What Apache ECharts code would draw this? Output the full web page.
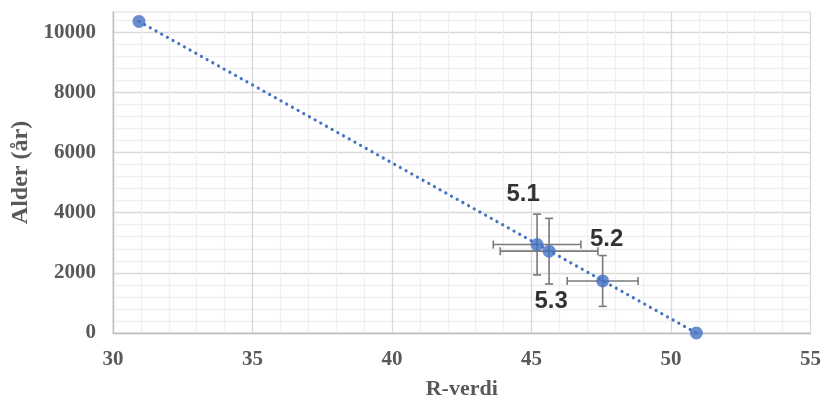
<!DOCTYPE html>
<html>
<head>
<meta charset="utf-8">
<script src="https://cdn.jsdelivr.net/npm/echarts@6/dist/echarts.min.js"></script>
<style>
html,body{margin:0;padding:0;background:#fff;}
#chart{width:824px;height:405px;}
</style>
</head>
<body>
<div id="chart"></div>
<script>
// ---- data ----
const rValues   = [30.93, 45.2, 45.63, 47.55, 50.91];   // R-verdi
const ages      = [10356, 2940, 2720, 1730, 0];         // Alder (år)
const rErr      = [null, 1.57, 1.75, 1.27, null];       // ± R-verdi
const ageErr    = [null, 1010, 1090, 845, null];        // ± Alder
const pointLabels = ['', '5.1', '5.3', '5.2', ''];
const labelOffsets = [[0,0], [-14,-50], [2,50], [4,-42], [0,0]];
const trendX = [30.93, 50.91];
const trendY = [10356, 0];
const xTicks = [30, 35, 40, 45, 50, 55];
const yTicks = [0, 2000, 4000, 6000, 8000, 10000];

const BLUE = '#4472C4';
const GRAY_TXT = '#595959';
const MAJOR = '#d9d9d9';
const MINOR = '#f0f0f0';

const scatterData = rValues.map((x, i) => ({
  value: [x, ages[i]],
  label: {
    show: pointLabels[i] !== '',
    formatter: pointLabels[i],
    position: 'inside',
    offset: labelOffsets[i],
    color: '#000',
    fontFamily: 'Liberation Sans',
    fontWeight: 'bold',
    fontSize: 24
  }
}));

const errData = [];
rValues.forEach((x, i) => {
  if (rErr[i] != null) errData.push([x, ages[i], rErr[i], ageErr[i]]);
});

const trendData = trendX.map((x, i) => [x, trendY[i]]);

const chart = echarts.init(document.getElementById('chart'), null, {renderer: 'canvas'});
chart.setOption({
  animation: false,
  backgroundColor: '#fff',
  grid: {
    left: 113, right: 11, top: 12, bottom: 69,
    show: true, borderColor: MAJOR, borderWidth: 1
  },
  xAxis: {
    type: 'value',
    min: xTicks[0], max: xTicks[xTicks.length - 1], interval: 1,
    name: 'R-verdi',
    nameLocation: 'middle',
    nameGap: 45,
    nameTextStyle: {fontFamily: 'Liberation Serif', fontWeight: 'bold', fontSize: 22, color: GRAY_TXT},
    axisLine: {show: true, lineStyle: {color: '#bfbfbf', width: 1.3}},
    axisTick: {show: false},
    axisLabel: {
      margin: 16,
      fontFamily: 'Liberation Serif', fontWeight: 'bold', fontSize: 21, color: GRAY_TXT,
      formatter: v => xTicks.includes(v) ? String(v) : ''
    },
    splitLine: {show: true, lineStyle: {color: [MAJOR, MINOR, MINOR, MINOR, MINOR], width: 1.3}}
  },
  yAxis: {
    type: 'value',
    min: 0, max: 10670, interval: 400,
    name: 'Alder (år)',
    nameLocation: 'middle',
    nameGap: 78,
    nameTextStyle: {fontFamily: 'Liberation Serif', fontWeight: 'bold', fontSize: 24, color: GRAY_TXT},
    axisLine: {show: true, lineStyle: {color: '#bfbfbf', width: 1.3}},
    axisTick: {show: false},
    axisLabel: {
      margin: 17,
      showMaxLabel: false,
      fontFamily: 'Liberation Serif', fontWeight: 'bold', fontSize: 21, color: GRAY_TXT,
      formatter: v => yTicks.includes(v) ? String(v) : ''
    },
    splitLine: {show: true, lineStyle: {color: [MAJOR, MINOR, MINOR, MINOR, MINOR], width: 1.3}}
  },
  series: [
    {
      type: 'line',
      data: trendData,
      showSymbol: false,
      symbol: 'none',
      lineStyle: {color: BLUE, width: 3.2, type: [0.01, 6.5], cap: 'round'},
      z: 2,
      silent: true
    },
    {
      type: 'custom',
      data: errData,
      z: 3,
      renderItem: function (params, api) {
        const x = api.value(0), y = api.value(1), ex = api.value(2), ey = api.value(3);
        const l = api.coord([x - ex, y]);
        const r = api.coord([x + ex, y]);
        const t = api.coord([x, y + ey]);
        const b = api.coord([x, y - ey]);
        const c = 4;
        const style = {stroke: '#7a7a7a', lineWidth: 1.6, fill: null};
        return {
          type: 'group',
          children: [
            {type: 'line', shape: {x1: l[0], y1: l[1], x2: r[0], y2: r[1]}, style},
            {type: 'line', shape: {x1: l[0], y1: l[1] - c, x2: l[0], y2: l[1] + c}, style},
            {type: 'line', shape: {x1: r[0], y1: r[1] - c, x2: r[0], y2: r[1] + c}, style},
            {type: 'line', shape: {x1: t[0], y1: t[1], x2: b[0], y2: b[1]}, style},
            {type: 'line', shape: {x1: t[0] - c, y1: t[1], x2: t[0] + c, y2: t[1]}, style},
            {type: 'line', shape: {x1: b[0] - c, y1: b[1], x2: b[0] + c, y2: b[1]}, style}
          ]
        };
      }
    },
    {
      type: 'scatter',
      data: scatterData,
      symbol: 'circle',
      symbolSize: 13,
      itemStyle: {color: BLUE},
      z: 4
    }
  ]
});
</script>
</body>
</html>
